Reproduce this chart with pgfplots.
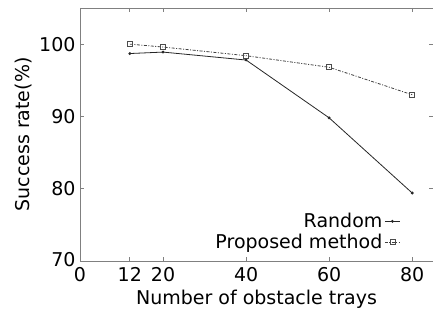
\documentclass[border=0pt]{standalone}
\usepackage{pgfplots}
\pgfplotsset{compat=1.18}
\usepackage{fontspec}
\setmainfont{DejaVu Sans}
\begin{document}
\begin{tikzpicture}
\begin{axis}[
  scale only axis, width=353pt, height=253pt,
  xmin=0, xmax=85, ymin=70, ymax=105,
  xtick={0,12,20,40,60,80}, ytick={70,80,90,100},
  yticklabels={\raisebox{4pt}{70},80,90,100},
  tick align=inside, major tick length=4pt,
  xtick pos=both, ytick pos=both,
  axis line style={draw=gray, line width=0.8pt},
  tick style={gray, line width=0.8pt},
  font=\fontsize{19}{22}\selectfont,
  /pgf/number format/assume math mode=true,
  xlabel={Number of obstacle trays}, ylabel={Success rate(\%)},
  xlabel style={yshift=-1pt}, ylabel style={yshift=0pt},
  yticklabel style={xshift=-1pt}, xticklabel style={yshift=-3pt},
  legend style={draw=none, fill=none, at={(axis cs:77.3,76.9)}, anchor=north east,
    font=\fontsize{19}{22}\selectfont, row sep=1pt, inner sep=0pt},
  legend cell align=right, legend plot pos=right,
  legend image code/.code={\draw[#1] (0.4cm,0cm) -- (0.95cm,0cm); \draw[#1, only marks] plot coordinates {(0.67cm,0cm)};},
]
\addplot[black!85, line width=0.8pt, mark=*, mark size=1pt] coordinates {
  (12,98.7) (20,98.9) (40,97.8) (60,89.8) (80,79.4)};
\addlegendentry{Random}
\addplot[black!75, line width=0.8pt, dash pattern=on 3pt off 1.5pt on 1pt off 1.5pt,
  mark=square, mark size=2.5pt, mark options={solid, black!70, line width=0.6pt}] coordinates {
  (12,100) (20,99.6) (40,98.4) (60,96.8) (80,93.0)};
\addlegendentry{Proposed method}
\end{axis}
\pgfresetboundingbox
\path[use as bounding box] ([xshift=-80pt,yshift=-54pt]current axis.south west) rectangle ([yshift=8pt]current axis.north east);
\end{tikzpicture}
\end{document}
